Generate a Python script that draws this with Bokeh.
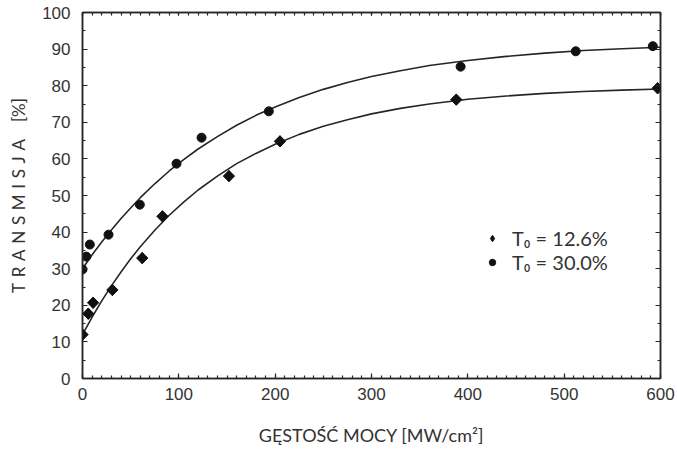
from bokeh.plotting import figure
from bokeh.models import (LinearAxis, SingleIntervalTicker, Range1d, Legend, LegendItem,
                          ColumnDataSource, CustomJSTickFormatter)
from bokeh.embed import file_html
from bokeh.resources import INLINE

x_low = [0, 6, 11, 31, 62, 83, 152, 205, 388, 597]
y_low = [12.0, 17.7, 20.7, 24.2, 32.9, 44.3, 55.3, 64.8, 76.2, 79.3]

x_high = [0, 4, 7.6, 27, 59.5, 97.6, 123.6, 193.4, 392.5, 512, 592]
y_high = [29.8, 33.3, 36.6, 39.3, 47.5, 58.7, 65.8, 73.0, 85.2, 89.4, 90.8]

# --- fitted curves ---
curve_x = [0, 10, 20, 30, 40, 50, 60, 75, 90, 105, 120, 140, 160, 180, 200, 225,
           250, 275, 300, 330, 360, 400, 440, 480, 520, 560, 600]
curve_low = [12.0, 16.8, 21.2, 25.3, 29.1, 32.7, 36.0, 40.5, 44.6, 48.2, 51.5, 55.3,
             58.7, 61.5, 64.0, 66.7, 68.9, 70.7, 72.3, 73.8, 75.0, 76.3, 77.2, 77.9,
             78.4, 78.8, 79.1]
curve_high = [30.0, 33.8, 37.3, 40.6, 43.7, 46.6, 49.4, 53.2, 56.7, 59.8, 62.7, 66.1,
              69.2, 71.9, 74.2, 76.8, 79.0, 80.9, 82.5, 84.1, 85.5, 86.9, 88.0, 88.9,
              89.6, 90.1, 90.5]

labels = ["T\u2080 = 12.6%", "T\u2080 = 30.0%"]
x_title = "GĘSTOŚĆ MOCY [MW/cm²]"
y_title = "\u2004".join("TRANSMISJA") + "\u2004\u2004\u2004[%]"

INK = "#262626"
TXT = "#333333"

p = figure(width=677, height=451, output_backend="svg", toolbar_location=None,
           x_range=Range1d(0, 600), y_range=Range1d(0, 100),
           min_border_left=82, min_border_right=17, min_border_top=12, min_border_bottom=73,
           x_axis_location=None, y_axis_location=None)
p.grid.visible = False
p.outline_line_color = INK
p.outline_line_width = 1.5
p.background_fill_color = "white"
p.border_fill_color = "white"

blank = CustomJSTickFormatter(code="return ''")

def style_axis(ax, show_labels):
    ax.axis_line_color = INK
    ax.axis_line_width = 1.5
    ax.major_tick_line_color = INK
    ax.minor_tick_line_color = INK
    ax.major_tick_in = 5
    ax.major_tick_out = 0
    ax.minor_tick_in = 3
    ax.minor_tick_out = 0
    ax.major_tick_line_width = 1.2
    ax.minor_tick_line_width = 1.2
    if show_labels:
        ax.major_label_text_font = "Liberation Sans"
        ax.major_label_text_font_size = "17px"
        ax.major_label_text_color = TXT
    else:
        ax.formatter = blank
        ax.major_label_standoff = 0

bottom = LinearAxis(ticker=SingleIntervalTicker(interval=100, num_minor_ticks=10))
style_axis(bottom, True)
bottom.major_label_standoff = 9
bottom.axis_label = x_title
bottom.axis_label_text_font = "Lato"
bottom.axis_label_text_font_style = "normal"
bottom.axis_label_text_font_size = "18px"
bottom.axis_label_text_color = TXT
bottom.axis_label_standoff = 21
p.add_layout(bottom, "below")

top = LinearAxis(ticker=SingleIntervalTicker(interval=100, num_minor_ticks=10))
style_axis(top, False)
top.major_tick_in = 3
p.add_layout(top, "above")

left = LinearAxis(ticker=SingleIntervalTicker(interval=10, num_minor_ticks=2))
style_axis(left, True)
left.major_label_standoff = 12
left.axis_label = y_title
left.axis_label_text_font = "Lato"
left.axis_label_text_font_style = "normal"
left.axis_label_text_font_size = "17px"
left.axis_label_text_color = TXT
left.axis_label_standoff = 10
p.add_layout(left, "left")

right = LinearAxis(ticker=SingleIntervalTicker(interval=10, num_minor_ticks=2))
style_axis(right, False)
p.add_layout(right, "right")

p.line(curve_x, curve_low, line_color=INK, line_width=1.6)
p.line(curve_x, curve_high, line_color=INK, line_width=1.6)

src_low = ColumnDataSource(dict(x=x_low, y=y_low))
src_high = ColumnDataSource(dict(x=x_high, y=y_high))
# diamond glyph used for the legend key; it sits hidden under the rotated squares
r_key = p.scatter("x", "y", source=src_low, marker="diamond", size=11,
                  fill_color="#111111", line_color="#111111")
p.scatter("x", "y", source=src_low, marker="square", angle=0.785398, size=8,
          fill_color="#111111", line_color="#111111")
r_high = p.scatter("x", "y", source=src_high, marker="circle", size=9,
                   fill_color="#111111", line_color="#111111")

legend = Legend(items=[LegendItem(label=labels[0], renderers=[r_key]),
                       LegendItem(label=labels[1], renderers=[r_high])],
                location=(402, 104), orientation="vertical",
                border_line_color=None, background_fill_alpha=0,
                padding=0, spacing=-5, margin=0,
                label_text_font="Lato", label_text_font_size="20px",
                label_text_color=TXT, label_standoff=12,
                glyph_width=16, glyph_height=22, label_height=22)
p.add_layout(legend, "center")

open("out.html", "w").write(file_html(p, INLINE))
